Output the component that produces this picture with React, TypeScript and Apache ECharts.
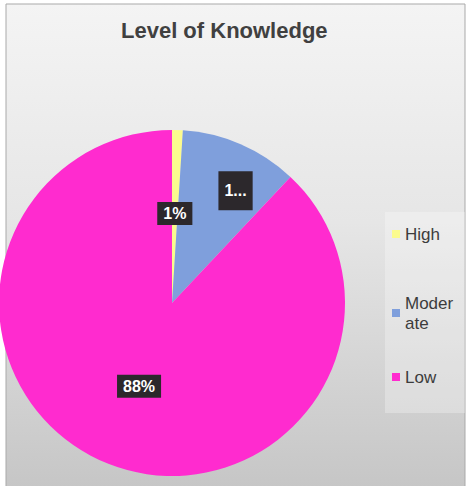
import React, { useEffect, useRef } from "react";
import * as echarts from "echarts";

const categories = ["High", "Moderate", "Low"];
const values = [1, 11, 88];
const colors = ["#fbfb8e", "#7f9fdc", "#ff2bcf"];
const titleText = "Level of Knowledge";

export default function App() {
  const ref = useRef<HTMLDivElement>(null);
  useEffect(() => {
    if (!ref.current) return;
    const chart = echarts.init(ref.current, undefined, { renderer: "svg" });
    const labelBase = {
      show: true,
      position: "inside",
      color: "#ffffff",
      fontWeight: "bold",
      fontSize: 16,
      fontFamily: "Liberation Sans, Arial, sans-serif",
      backgroundColor: "#2c282c",
      padding: [4, 6, 3, 6],
    };
    const data = categories.map((name, i) => {
      const item: any = { name, value: values[i], itemStyle: { color: colors[i] } };
      if (name === "Moderate") {
        item.label = {
          ...labelBase,
          offset: [28, -30],
          padding: [11, 6, 12, 6],
          formatter: (p: any) => String(Math.round(p.percent)).slice(0, 1) + "...",
        };
      }
      return item;
    });
    const legendText = {
      fontSize: 17,
      color: "#3c3c3c",
      fontFamily: "Liberation Sans, Arial, sans-serif",
      lineHeight: 20,
    };
    const mkLegend = (name: string, top: number) => ({
      data: [name],
      orient: "vertical",
      left: 392,
      top,
      icon: "rect",
      itemWidth: 8,
      itemHeight: 8,
      itemGap: 0,
      padding: 0,
      textStyle: legendText,
      formatter: (n: string) => (n === "Moderate" ? "Moder\nate" : n),
    });
    chart.setOption({
      animation: false,
      graphic: [
        {
          type: "rect",
          z: -10,
          silent: true,
          shape: { x: 6, y: 4, width: 459, height: 484 },
          style: {
            fill: new echarts.graphic.LinearGradient(0, 0, 0, 1, [
              { offset: 0, color: "#f4f4f4" },
              { offset: 0.45, color: "#e6e6e6" },
              { offset: 1, color: "#c6c6c6" },
            ]),
            stroke: "#a9a9a9",
            lineWidth: 1,
          },
        },
        {
          type: "rect",
          z: -9,
          silent: true,
          shape: { x: 385, y: 212, width: 80, height: 201 },
          style: { fill: "rgba(255,255,255,0.28)" },
        },
      ],
      title: {
        text: titleText,
        left: 116,
        top: 14,
        textStyle: {
          fontSize: 22,
          fontWeight: "bold",
          color: "#404040",
          fontFamily: "Liberation Sans, Arial, sans-serif",
        },
      },
      legend: [mkLegend("High", 224), mkLegend("Moderate", 293), mkLegend("Low", 367)],
      series: [
        {
          type: "pie",
          center: [172, 303],
          radius: 173,
          startAngle: 90,
          clockwise: true,
          label: { ...labelBase, formatter: (p: any) => Math.round(p.percent) + "%" },
          labelLine: { show: false },
          emphasis: { disabled: true },
          data,
        },
      ],
    });
    return () => chart.dispose();
  }, []);
  return (
    <div
      ref={ref}
      style={{ position: "absolute", left: 0, top: 0, width: 467, height: 486, background: "#ffffff" }}
    />
  );
}
